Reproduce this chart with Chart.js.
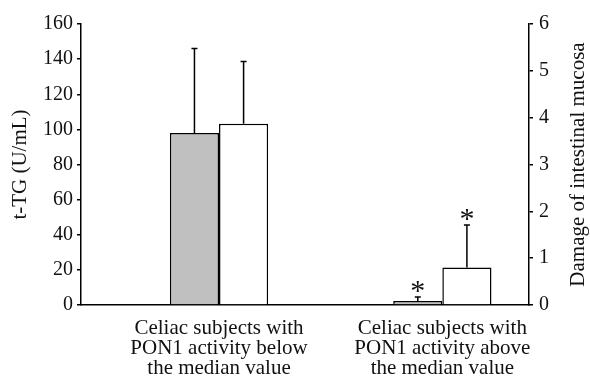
<!DOCTYPE html>
<html>
<head>
<meta charset="utf-8">
<script src="https://cdn.jsdelivr.net/npm/chart.js"></script>
<style>
  html, body { margin: 0; padding: 0; background: #fff; }
  #wrap { width: 590px; height: 380px; }
</style>
</head>
<body>
<div id="wrap"><canvas id="pon1Chart" width="590" height="380"></canvas></div>
<script>
// Group labels on the x axis (one entry per group, split in lines)
const categories = [
  ['Celiac subjects with', 'PON1 activity below', 'the median value'],
  ['Celiac subjects with', 'PON1 activity above', 'the median value']
];

// t-TG (U/mL), left axis - grey bars
const tgValues = [98, 2.3];
const tgErrors = [48, 2.3];
const tgSignificant = [false, true];

// Damage of intestinal mucosa, right axis - white bars
const damageValues = [3.87, 0.8];
const damageErrors = [1.33, 0.91];
const damageSignificant = [false, true];

// Axis ranges
const tgAxis = { min: 0, max: 160, step: 20 };
const damageAxis = { min: 0, max: 6, step: 1 };

const serif = "'Liberation Serif', 'DejaVu Serif', serif";
Chart.defaults.font.family = serif;
Chart.defaults.font.size = 20;
Chart.defaults.color = '#111';

// Draws the upward error bars, the asterisks and the right axis title
const errorBarPlugin = {
  id: 'errorBars',
  afterDatasetsDraw(chart) {
    const ctx = chart.ctx;
    chart.data.datasets.forEach((ds, di) => {
      const meta = chart.getDatasetMeta(di);
      const yScale = chart.scales[ds.yAxisID];
      meta.data.forEach((bar, i) => {
        const value = ds.data[i].y;
        const top = yScale.getPixelForValue(value + ds.errors[i]);
        const base = yScale.getPixelForValue(value);
        ctx.save();
        ctx.strokeStyle = '#000';
        ctx.lineWidth = 1.5;
        ctx.beginPath();
        ctx.moveTo(bar.x, base);
        ctx.lineTo(bar.x, top);
        ctx.moveTo(bar.x - 3, top);
        ctx.lineTo(bar.x + 3, top);
        ctx.stroke();
        if (ds.significant[i]) {
          ctx.fillStyle = '#111';
          ctx.font = '30px ' + serif;
          ctx.textAlign = 'center';
          ctx.textBaseline = 'alphabetic';
          ctx.fillText('*', bar.x, top + 3);
        }
        ctx.restore();
      });
    });
  },
  afterDraw(chart) {
    // right axis title reads bottom to top, like the left one
    const area = chart.chartArea;
    const ctx = chart.ctx;
    ctx.save();
    ctx.translate(578, (area.top + area.bottom) / 2);
    ctx.rotate(-Math.PI / 2);
    ctx.fillStyle = '#111';
    ctx.font = '21px ' + serif;
    ctx.textAlign = 'center';
    ctx.textBaseline = 'middle';
    ctx.fillText('Damage of intestinal mucosa', 0, 0);
    ctx.restore();
  }
};

const ctx = document.getElementById('pon1Chart').getContext('2d');
new Chart(ctx, {
  type: 'bar',
  data: {
    datasets: [
      {
        label: 't-TG',
        data: tgValues.map((v, i) => ({ x: i, y: v })),
        errors: tgErrors,
        significant: tgSignificant,
        backgroundColor: '#c0c0c0',
        borderColor: '#000',
        borderWidth: 1.5,
        yAxisID: 'y'
      },
      {
        label: 'Damage of intestinal mucosa',
        data: damageValues.map((v, i) => ({ x: i, y: v })),
        errors: damageErrors,
        significant: damageSignificant,
        backgroundColor: '#ffffff',
        borderColor: '#000',
        borderWidth: 1.5,
        yAxisID: 'y1'
      }
    ]
  },
  options: {
    responsive: false,
    animation: false,
    categoryPercentage: 0.44,
    barPercentage: 1,
    layout: { padding: { top: 24, left: 0, right: 0, bottom: 0 } },
    plugins: {
      legend: { display: false },
      tooltip: { enabled: false }
    },
    scales: {
      x: {
        type: 'linear',
        offset: false,
        min: -0.618,
        max: 1.388,
        afterBuildTicks: scale => {
          scale.ticks = categories.map((_, i) => ({ value: i }));
        },
        afterFit: scale => { scale.height = 75; },
        ticks: {
          autoSkip: false,
          maxRotation: 0,
          padding: 6,
          font: { size: 21, lineHeight: 0.95 },
          callback: value => categories[value]
        },
        grid: { display: false },
        border: { display: true, color: '#000', width: 1.5 }
      },
      y: {
        position: 'left',
        min: tgAxis.min,
        max: tgAxis.max,
        afterFit: scale => { scale.width = 81; },
        ticks: { stepSize: tgAxis.step, padding: 4 },
        grid: { drawOnChartArea: false, tickLength: 4, color: '#000', lineWidth: 1.5 },
        border: { display: true, color: '#000', width: 1.5 },
        title: { display: true, text: 't-TG (U/mL)', padding: { top: 8, bottom: 0 }, font: { size: 21 } }
      },
      y1: {
        position: 'right',
        min: damageAxis.min,
        max: damageAxis.max,
        afterFit: scale => { scale.width = 61; },
        ticks: { stepSize: damageAxis.step, padding: 6 },
        grid: { drawOnChartArea: false, tickLength: 4, color: '#000', lineWidth: 1.5 },
        border: { display: true, color: '#000', width: 1.5 }
      }
    }
  },
  plugins: [errorBarPlugin]
});
</script>
</body>
</html>
